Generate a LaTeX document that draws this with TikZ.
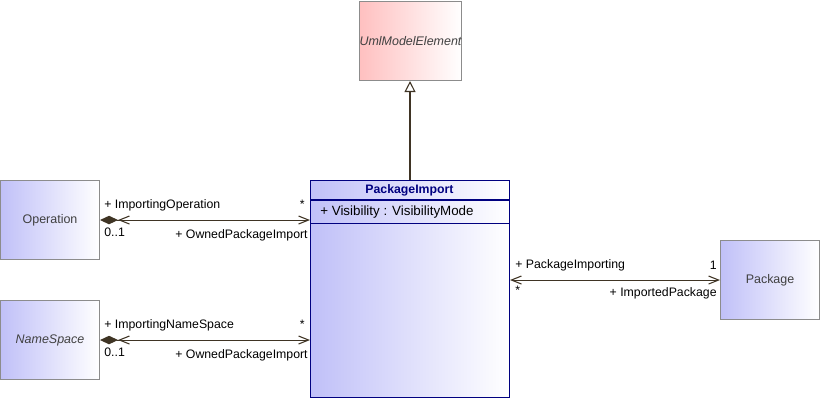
\documentclass[tikz,border=0pt]{standalone}
\usepackage{fontspec}
\setmainfont{Liberation Sans}
\usetikzlibrary{arrows.meta,positioning}
\definecolor{umlline}{HTML}{3F3424}
\definecolor{umlblue}{HTML}{C0C0F8}
\definecolor{umlred}{HTML}{FFC0C0}
\definecolor{umlgray}{HTML}{8C8C8C}
\definecolor{umltext}{HTML}{404040}
\definecolor{umlnavy}{HTML}{000080}
\begin{document}
\begin{tikzpicture}
		[x=0.02cm,y=-0.02cm,
		cls/.style ={rectangle, draw=umlgray, line width=0.6pt, left color=umlblue, right color=white, minimum width=1.98cm, minimum height=1.58cm, inner sep=0pt, text=umltext, font=\fontsize{7.1}{8.5}\selectfont},
		abstr/.style ={cls, font=\fontsize{7.1}{8.5}\selectfont\itshape},
		parent/.style ={abstr, left color=umlred},
		mainbox/.style ={cls, draw=umlnavy, minimum width=3.98cm, minimum height=4.34cm},
		lbl/.style ={inner sep=0pt, text=black, font=\fontsize{7}{8}\selectfont},
		assoc/.style ={draw=umlline, line width=0.6pt, {Straight Barb[length=2mm,width=1.6mm]}-{Straight Barb[length=2mm,width=1.6mm]}},
		comp/.style ={draw=umlline, line width=0.6pt, {Diamond[length=3.6mm,width=1.7mm,fill=umlline]Straight Barb[length=2mm,width=1.6mm]}-{Straight Barb[length=2mm,width=1.6mm]}},
		gen/.style ={draw=umlline, line width=0.6pt, -{Triangle[open,length=2.2mm,width=2.2mm,fill=white]}},
		]
		\useasboundingbox (0,0) rectangle (820,400);

		% classes
		\node[parent, anchor=north west] (UME) at (359,1) {UmlModelElement};
		\node[cls, anchor=north west] (Op) at (0,180) {Operation};
		\node[abstr, anchor=north west] (NS) at (0,300) {NameSpace};
		\node[cls, anchor=north west] (Pk) at (720,240) {Package};
		\node[mainbox, anchor=north west] (PI) at (310,180) {};
		\node[lbl, text=umlnavy, font=\fontsize{7}{8}\selectfont\bfseries] (PItitle) at (409.5,190) {PackageImport};
		\node[lbl, anchor=west, font=\fontsize{7.6}{9}\selectfont] (PIattr) at (320,212.5) {+ Visibility : VisibilityMode};
		\draw[umlnavy, line width=0.6pt] (310,200) -- (509,200);
		\draw[umlnavy, line width=0.6pt] (310,223.5) -- (509,223.5);

		% connectors
		\path[gen] (PI.north) -- (PI.north |- UME.south);
		\path[comp] (Op.east) -- (Op.east -| PI.west);
		\path[comp] (NS.east) -- (NS.east -| PI.west);
		\path[assoc] (PI.east |- Pk.west) -- (Pk.west);

		% role labels
		\node[lbl, anchor=west] (opRole) at (104,205) {+ ImportingOperation};
		\node[lbl, anchor=west] (opMult) at (104,232) {0..1};
		\node[lbl, anchor=east] (opStar) at (305,204) {*};
		\node[lbl, anchor=east] (opOwned) at (308,235) {+ OwnedPackageImport};
		\node[lbl, anchor=west] (nsRole) at (104,325) {+ ImportingNameSpace};
		\node[lbl, anchor=west] (nsMult) at (104,352) {0..1};
		\node[lbl, anchor=east] (nsStar) at (305,324) {*};
		\node[lbl, anchor=east] (nsOwned) at (308,355) {+ OwnedPackageImport};
		\node[lbl, anchor=west] (pkRole) at (515,265.5) {+ PackageImporting};
		\node[lbl, anchor=east] (pkOne) at (717,265.5) {1};
		\node[lbl, anchor=west] (pkStar) at (515,290) {*};
		\node[lbl, anchor=east] (pkImported) at (717,293) {+ ImportedPackage};
	\end{tikzpicture}
\end{document}
